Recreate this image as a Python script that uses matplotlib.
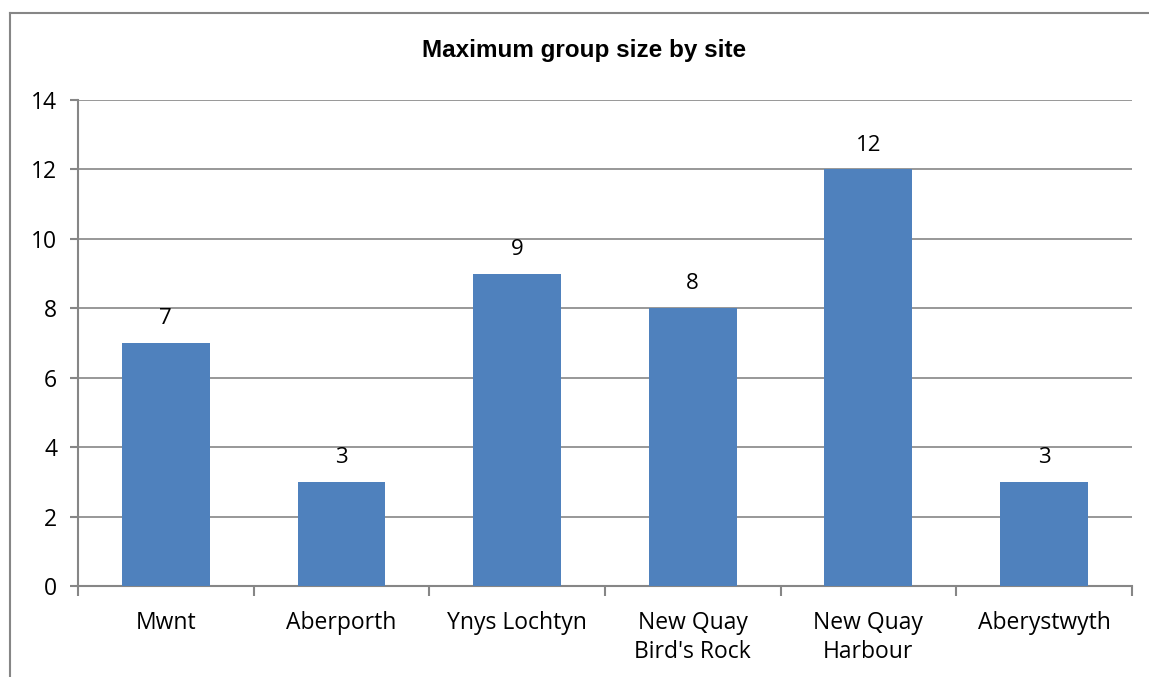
import numpy as np
import matplotlib.pyplot as plt
from matplotlib.lines import Line2D

# data
sites = ["Mwnt", "Aberporth", "Ynys Lochtyn", "New Quay\nBird's Rock", "New Quay\nHarbour", "Aberystwyth"]
max_group = [7, 3, 9, 8, 12, 3]
y_ticks = [0, 2, 4, 6, 8, 10, 12, 14]

bar_color = "#4F81BD"
grid_color = "#868686"

plt.rcParams["font.family"] = ["Open Sans", "DejaVu Sans"]

fig = plt.figure(figsize=(11.49, 6.77), dpi=100)
ax = fig.add_axes([0.0679, 0.1344, 0.9171, 0.7179])

x = np.arange(len(sites))
ax.bar(x, max_group, width=0.5, color=bar_color, zorder=3)

for xi, v in zip(x, max_group):
    ax.annotate(str(v), (xi, v), xytext=(0, 10), textcoords="offset points",
                ha="center", va="bottom", fontsize=16)

ax.set_xlim(-0.5, len(sites) - 0.5)
ax.set_ylim(0, 14)
ax.set_yticks(y_ticks)
ax.tick_params(axis="y", labelsize=16.5, length=6, color=grid_color, width=1.5, pad=9)
ax.yaxis.grid(True, color=grid_color, linewidth=1.2, zorder=0)

# category labels at centres, tick marks at boundaries
ax.set_xticks(x)
ax.set_xticklabels(sites, fontsize=16.5, linespacing=1.3)
ax.tick_params(axis="x", which="major", length=0, pad=18)
ax.set_xticks(np.arange(-0.5, len(sites)), minor=True)
ax.tick_params(axis="x", which="minor", length=7, color=grid_color, width=1.5)

for side in ["top", "right"]:
    ax.spines[side].set_visible(False)
for side in ["left", "bottom"]:
    ax.spines[side].set_color(grid_color)
    ax.spines[side].set_linewidth(1.5)

fig.text(0.508, 0.925, "Maximum group size by site", ha="center", va="center",
         fontsize=17.5, fontweight="bold", family="Liberation Sans")

# chart area border (cropped on right/bottom)
fig.add_artist(Line2D([0.0083, 0.0083], [0, 0.9808], transform=fig.transFigure,
                      color=grid_color, linewidth=1.5))
fig.add_artist(Line2D([0.0083, 1.0], [0.9808, 0.9808], transform=fig.transFigure,
                      color=grid_color, linewidth=1.5))

fig.savefig("out.png", dpi=100)
